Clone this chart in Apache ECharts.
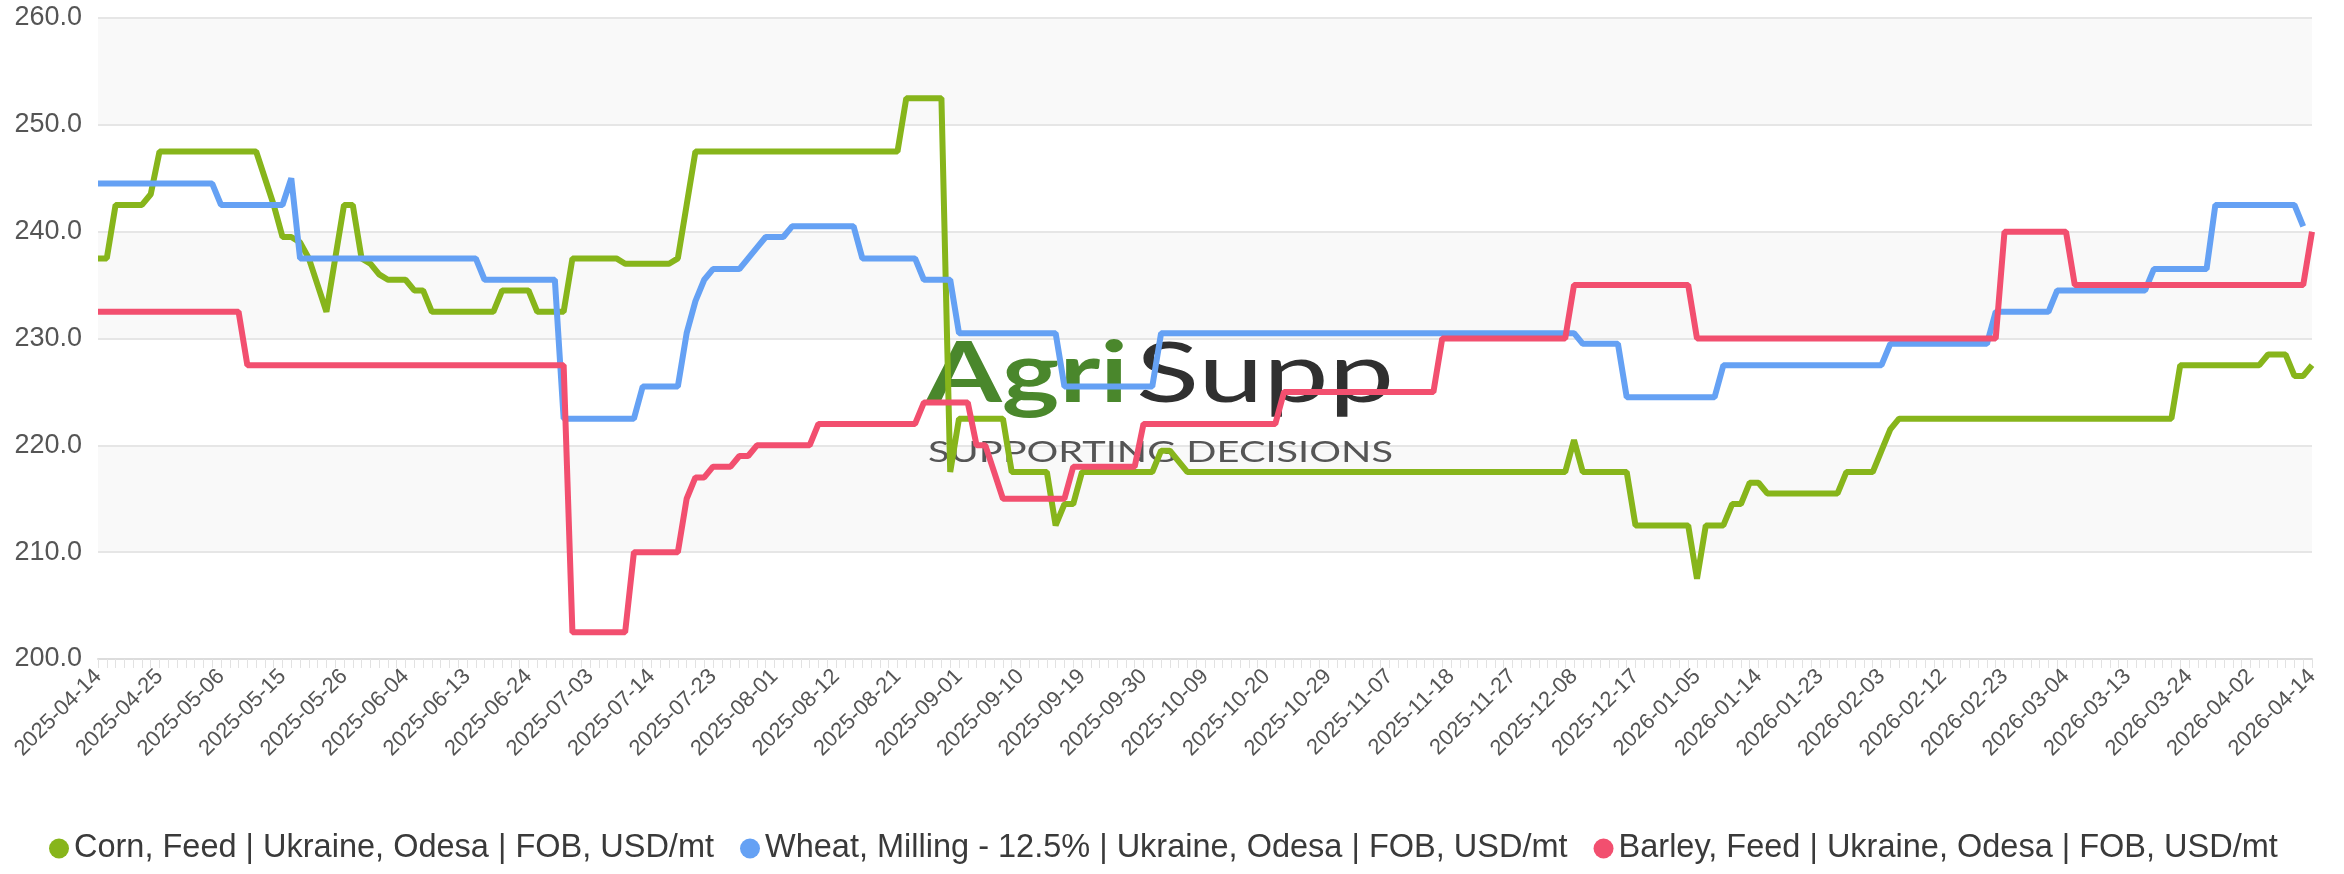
<!DOCTYPE html>
<html>
<head>
<meta charset="utf-8">
<script src="https://cdn.jsdelivr.net/npm/echarts@6/dist/echarts.min.js"></script>
<style>
  html, body { margin: 0; padding: 0; background: #fff; }
  #chart { width: 2344px; height: 874px; }
</style>
</head>
<body>
<div id="chart"></div>
<script>
// trading days, one row per labelled step (every 7th date gets a label)
const dates = [
  '2025-04-14', '2025-04-15', '2025-04-16', '2025-04-17', '2025-04-22', '2025-04-23', '2025-04-24',
  '2025-04-25', '2025-04-28', '2025-04-29', '2025-04-30', '2025-05-01', '2025-05-02', '2025-05-05',
  '2025-05-06', '2025-05-07', '2025-05-08', '2025-05-09', '2025-05-12', '2025-05-13', '2025-05-14',
  '2025-05-15', '2025-05-16', '2025-05-19', '2025-05-20', '2025-05-21', '2025-05-22', '2025-05-23',
  '2025-05-26', '2025-05-27', '2025-05-28', '2025-05-29', '2025-05-30', '2025-06-02', '2025-06-03',
  '2025-06-04', '2025-06-05', '2025-06-06', '2025-06-09', '2025-06-10', '2025-06-11', '2025-06-12',
  '2025-06-13', '2025-06-16', '2025-06-17', '2025-06-18', '2025-06-19', '2025-06-20', '2025-06-23',
  '2025-06-24', '2025-06-25', '2025-06-26', '2025-06-27', '2025-06-30', '2025-07-01', '2025-07-02',
  '2025-07-03', '2025-07-04', '2025-07-07', '2025-07-08', '2025-07-09', '2025-07-10', '2025-07-11',
  '2025-07-14', '2025-07-15', '2025-07-16', '2025-07-17', '2025-07-18', '2025-07-21', '2025-07-22',
  '2025-07-23', '2025-07-24', '2025-07-25', '2025-07-28', '2025-07-29', '2025-07-30', '2025-07-31',
  '2025-08-01', '2025-08-04', '2025-08-05', '2025-08-06', '2025-08-07', '2025-08-08', '2025-08-11',
  '2025-08-12', '2025-08-13', '2025-08-14', '2025-08-15', '2025-08-18', '2025-08-19', '2025-08-20',
  '2025-08-21', '2025-08-22', '2025-08-25', '2025-08-26', '2025-08-27', '2025-08-28', '2025-08-29',
  '2025-09-01', '2025-09-02', '2025-09-03', '2025-09-04', '2025-09-05', '2025-09-08', '2025-09-09',
  '2025-09-10', '2025-09-11', '2025-09-12', '2025-09-15', '2025-09-16', '2025-09-17', '2025-09-18',
  '2025-09-19', '2025-09-22', '2025-09-23', '2025-09-24', '2025-09-25', '2025-09-26', '2025-09-29',
  '2025-09-30', '2025-10-01', '2025-10-02', '2025-10-03', '2025-10-06', '2025-10-07', '2025-10-08',
  '2025-10-09', '2025-10-10', '2025-10-13', '2025-10-14', '2025-10-15', '2025-10-16', '2025-10-17',
  '2025-10-20', '2025-10-21', '2025-10-22', '2025-10-23', '2025-10-24', '2025-10-27', '2025-10-28',
  '2025-10-29', '2025-10-30', '2025-10-31', '2025-11-03', '2025-11-04', '2025-11-05', '2025-11-06',
  '2025-11-07', '2025-11-10', '2025-11-11', '2025-11-12', '2025-11-13', '2025-11-14', '2025-11-17',
  '2025-11-18', '2025-11-19', '2025-11-20', '2025-11-21', '2025-11-24', '2025-11-25', '2025-11-26',
  '2025-11-27', '2025-11-28', '2025-12-01', '2025-12-02', '2025-12-03', '2025-12-04', '2025-12-05',
  '2025-12-08', '2025-12-09', '2025-12-10', '2025-12-11', '2025-12-12', '2025-12-15', '2025-12-16',
  '2025-12-17', '2025-12-18', '2025-12-19', '2025-12-22', '2025-12-23', '2025-12-29', '2025-12-30',
  '2026-01-05', '2026-01-06', '2026-01-07', '2026-01-08', '2026-01-09', '2026-01-12', '2026-01-13',
  '2026-01-14', '2026-01-15', '2026-01-16', '2026-01-19', '2026-01-20', '2026-01-21', '2026-01-22',
  '2026-01-23', '2026-01-26', '2026-01-27', '2026-01-28', '2026-01-29', '2026-01-30', '2026-02-02',
  '2026-02-03', '2026-02-04', '2026-02-05', '2026-02-06', '2026-02-09', '2026-02-10', '2026-02-11',
  '2026-02-12', '2026-02-13', '2026-02-16', '2026-02-17', '2026-02-18', '2026-02-19', '2026-02-20',
  '2026-02-23', '2026-02-24', '2026-02-25', '2026-02-26', '2026-02-27', '2026-03-02', '2026-03-03',
  '2026-03-04', '2026-03-05', '2026-03-06', '2026-03-09', '2026-03-10', '2026-03-11', '2026-03-12',
  '2026-03-13', '2026-03-16', '2026-03-17', '2026-03-18', '2026-03-19', '2026-03-20', '2026-03-23',
  '2026-03-24', '2026-03-25', '2026-03-26', '2026-03-27', '2026-03-30', '2026-03-31', '2026-04-01',
  '2026-04-02', '2026-04-06', '2026-04-07', '2026-04-08', '2026-04-09', '2026-04-10', '2026-04-13',
  '2026-04-14'
]

const corn = [
  237.5, 237.5, 242.5, 242.5, 242.5, 242.5, 243.5,
  247.5, 247.5, 247.5, 247.5, 247.5, 247.5, 247.5,
  247.5, 247.5, 247.5, 247.5, 247.5, 245, 242.5,
  239.5, 239.5, 239, 237.5, 235, 232.5, 237.5,
  242.5, 242.5, 237.5, 237, 236, 235.5, 235.5,
  235.5, 234.5, 234.5, 232.5, 232.5, 232.5, 232.5,
  232.5, 232.5, 232.5, 232.5, 234.5, 234.5, 234.5,
  234.5, 232.5, 232.5, 232.5, 232.5, 237.5, 237.5,
  237.5, 237.5, 237.5, 237.5, 237, 237, 237,
  237, 237, 237, 237.5, 242.5, 247.5, 247.5,
  247.5, 247.5, 247.5, 247.5, 247.5, 247.5, 247.5,
  247.5, 247.5, 247.5, 247.5, 247.5, 247.5, 247.5,
  247.5, 247.5, 247.5, 247.5, 247.5, 247.5, 247.5,
  247.5, 252.5, 252.5, 252.5, 252.5, 252.5, 217.5,
  222.5, 222.5, 222.5, 222.5, 222.5, 222.5, 217.5,
  217.5, 217.5, 217.5, 217.5, 212.5, 214.5, 214.5,
  217.5, 217.5, 217.5, 217.5, 217.5, 217.5, 217.5,
  217.5, 217.5, 219.5, 219.5, 218.5, 217.5, 217.5,
  217.5, 217.5, 217.5, 217.5, 217.5, 217.5, 217.5,
  217.5, 217.5, 217.5, 217.5, 217.5, 217.5, 217.5,
  217.5, 217.5, 217.5, 217.5, 217.5, 217.5, 217.5,
  217.5, 217.5, 217.5, 217.5, 217.5, 217.5, 217.5,
  217.5, 217.5, 217.5, 217.5, 217.5, 217.5, 217.5,
  217.5, 217.5, 217.5, 217.5, 217.5, 217.5, 217.5,
  220.5, 217.5, 217.5, 217.5, 217.5, 217.5, 217.5,
  212.5, 212.5, 212.5, 212.5, 212.5, 212.5, 212.5,
  207.5, 212.5, 212.5, 212.5, 214.5, 214.5, 216.5,
  216.5, 215.5, 215.5, 215.5, 215.5, 215.5, 215.5,
  215.5, 215.5, 215.5, 217.5, 217.5, 217.5, 217.5,
  219.5, 221.5, 222.5, 222.5, 222.5, 222.5, 222.5,
  222.5, 222.5, 222.5, 222.5, 222.5, 222.5, 222.5,
  222.5, 222.5, 222.5, 222.5, 222.5, 222.5, 222.5,
  222.5, 222.5, 222.5, 222.5, 222.5, 222.5, 222.5,
  222.5, 222.5, 222.5, 222.5, 222.5, 222.5, 227.5,
  227.5, 227.5, 227.5, 227.5, 227.5, 227.5, 227.5,
  227.5, 227.5, 228.5, 228.5, 228.5, 226.5, 226.5,
  227.5
]

const wheat = [
  244.5, 244.5, 244.5, 244.5, 244.5, 244.5, 244.5,
  244.5, 244.5, 244.5, 244.5, 244.5, 244.5, 244.5,
  242.5, 242.5, 242.5, 242.5, 242.5, 242.5, 242.5,
  242.5, 245, 237.5, 237.5, 237.5, 237.5, 237.5,
  237.5, 237.5, 237.5, 237.5, 237.5, 237.5, 237.5,
  237.5, 237.5, 237.5, 237.5, 237.5, 237.5, 237.5,
  237.5, 237.5, 235.5, 235.5, 235.5, 235.5, 235.5,
  235.5, 235.5, 235.5, 235.5, 222.5, 222.5, 222.5,
  222.5, 222.5, 222.5, 222.5, 222.5, 222.5, 225.5,
  225.5, 225.5, 225.5, 225.5, 230.5, 233.5, 235.5,
  236.5, 236.5, 236.5, 236.5, 237.5, 238.5, 239.5,
  239.5, 239.5, 240.5, 240.5, 240.5, 240.5, 240.5,
  240.5, 240.5, 240.5, 237.5, 237.5, 237.5, 237.5,
  237.5, 237.5, 237.5, 235.5, 235.5, 235.5, 235.5,
  230.5, 230.5, 230.5, 230.5, 230.5, 230.5, 230.5,
  230.5, 230.5, 230.5, 230.5, 230.5, 225.5, 225.5,
  225.5, 225.5, 225.5, 225.5, 225.5, 225.5, 225.5,
  225.5, 225.5, 230.5, 230.5, 230.5, 230.5, 230.5,
  230.5, 230.5, 230.5, 230.5, 230.5, 230.5, 230.5,
  230.5, 230.5, 230.5, 230.5, 230.5, 230.5, 230.5,
  230.5, 230.5, 230.5, 230.5, 230.5, 230.5, 230.5,
  230.5, 230.5, 230.5, 230.5, 230.5, 230.5, 230.5,
  230.5, 230.5, 230.5, 230.5, 230.5, 230.5, 230.5,
  230.5, 230.5, 230.5, 230.5, 230.5, 230.5, 230.5,
  230.5, 229.5, 229.5, 229.5, 229.5, 229.5, 224.5,
  224.5, 224.5, 224.5, 224.5, 224.5, 224.5, 224.5,
  224.5, 224.5, 224.5, 227.5, 227.5, 227.5, 227.5,
  227.5, 227.5, 227.5, 227.5, 227.5, 227.5, 227.5,
  227.5, 227.5, 227.5, 227.5, 227.5, 227.5, 227.5,
  227.5, 229.5, 229.5, 229.5, 229.5, 229.5, 229.5,
  229.5, 229.5, 229.5, 229.5, 229.5, 229.5, 232.5,
  232.5, 232.5, 232.5, 232.5, 232.5, 232.5, 234.5,
  234.5, 234.5, 234.5, 234.5, 234.5, 234.5, 234.5,
  234.5, 234.5, 234.5, 236.5, 236.5, 236.5, 236.5,
  236.5, 236.5, 236.5, 242.5, 242.5, 242.5, 242.5,
  242.5, 242.5, 242.5, 242.5, 242.5, 242.5, 240.5,
  null
]

const barley = [
  232.5, 232.5, 232.5, 232.5, 232.5, 232.5, 232.5,
  232.5, 232.5, 232.5, 232.5, 232.5, 232.5, 232.5,
  232.5, 232.5, 232.5, 227.5, 227.5, 227.5, 227.5,
  227.5, 227.5, 227.5, 227.5, 227.5, 227.5, 227.5,
  227.5, 227.5, 227.5, 227.5, 227.5, 227.5, 227.5,
  227.5, 227.5, 227.5, 227.5, 227.5, 227.5, 227.5,
  227.5, 227.5, 227.5, 227.5, 227.5, 227.5, 227.5,
  227.5, 227.5, 227.5, 227.5, 227.5, 202.5, 202.5,
  202.5, 202.5, 202.5, 202.5, 202.5, 210, 210,
  210, 210, 210, 210, 215, 217, 217,
  218, 218, 218, 219, 219, 220, 220,
  220, 220, 220, 220, 220, 222, 222,
  222, 222, 222, 222, 222, 222, 222,
  222, 222, 222, 224, 224, 224, 224,
  224, 224, 220, 220, 217.5, 215, 215,
  215, 215, 215, 215, 215, 215, 218,
  218, 218, 218, 218, 218, 218, 218,
  222, 222, 222, 222, 222, 222, 222,
  222, 222, 222, 222, 222, 222, 222,
  222, 222, 225, 225, 225, 225, 225,
  225, 225, 225, 225, 225, 225, 225,
  225, 225, 225, 225, 225, 225, 230,
  230, 230, 230, 230, 230, 230, 230,
  230, 230, 230, 230, 230, 230, 230,
  235, 235, 235, 235, 235, 235, 235,
  235, 235, 235, 235, 235, 235, 235,
  230, 230, 230, 230, 230, 230, 230,
  230, 230, 230, 230, 230, 230, 230,
  230, 230, 230, 230, 230, 230, 230,
  230, 230, 230, 230, 230, 230, 230,
  230, 230, 230, 230, 230, 230, 230,
  240, 240, 240, 240, 240, 240, 240,
  240, 235, 235, 235, 235, 235, 235,
  235, 235, 235, 235, 235, 235, 235,
  235, 235, 235, 235, 235, 235, 235,
  235, 235, 235, 235, 235, 235, 235,
  240
]

const seriesNames = [
  'Corn, Feed | Ukraine, Odesa | FOB, USD/mt',
  'Wheat, Milling - 12.5% | Ukraine, Odesa | FOB, USD/mt',
  'Barley, Feed | Ukraine, Odesa | FOB, USD/mt',
]
const seriesColors = ['#87b51b', '#65a1f4', '#f24f6f']

const fontFamily = '"Liberation Sans", Arial, Helvetica, sans-serif'
const logoFont = 'Lato, "Open Sans", sans-serif'

const chart = echarts.init(document.getElementById('chart'))

const makeLine = (name, data, color) => ({
  name,
  type: 'line',
  data,
  color,
  showSymbol: false,
  symbol: 'circle',
  lineStyle: { width: 6, color },
  emphasis: { disabled: true },
  z: 3,
})

chart.setOption({
  animation: false,
  backgroundColor: '#ffffff',
  grid: { left: 98, right: 32, top: 18, bottom: 215 },
  legend: {
    left: 44,
    bottom: 4,
    icon: 'circle',
    itemWidth: 20,
    itemHeight: 20,
    itemGap: 26,
    textStyle: { fontFamily, fontSize: 32.5, color: '#3a3a3a' },
    data: seriesNames,
  },
  // watermark logo, sits over the grid but under the lines
  graphic: [
    {
      type: 'text',
      x: 926,
      y: 333,
      scaleX: 1.3,
      z: 2,
      silent: true,
      style: {
        text: 'Agri',
        font: 'bold 84px ' + logoFont,
        fill: '#4a872c',
        textVerticalAlign: 'top',
      },
    },
    {
      type: 'text',
      x: 1136,
      y: 333,
      scaleX: 1.39,
      z: 2,
      silent: true,
      style: {
        text: 'Supp',
        font: '84px ' + logoFont,
        fill: '#303030',
        textVerticalAlign: 'top',
      },
    },
    {
      type: 'text',
      x: 928,
      y: 438,
      scaleX: 1.37,
      z: 2,
      silent: true,
      style: {
        text: 'SUPPORTING DECISIONS',
        font: '29px ' + logoFont,
        fill: '#555555',
        textVerticalAlign: 'top',
      },
    },
  ],
  xAxis: {
    type: 'category',
    boundaryGap: false,
    data: dates,
    axisLine: { show: true, lineStyle: { color: '#dcdcdc', width: 2 } },
    axisTick: { show: true, interval: 0, length: 9, lineStyle: { color: '#e2e2e2', width: 1 } },
    axisLabel: {
      interval: 6,
      rotate: 45,
      fontFamily,
      fontSize: 22,
      color: '#555555',
      margin: 14,
    },
    splitLine: { show: false },
  },
  yAxis: {
    type: 'value',
    min: 200,
    max: 260,
    interval: 10,
    axisLine: { show: false },
    axisTick: { show: false },
    axisLabel: {
      fontFamily,
      fontSize: 27,
      color: '#555555',
      margin: 16,
      formatter: (v) => v.toFixed(1),
    },
    splitLine: { show: true, lineStyle: { color: '#e6e6e6', width: 2 } },
    splitArea: { show: true, areaStyle: { color: ['#ffffff', '#f9f9f9'] } },
  },
  series: [
    makeLine(seriesNames[0], corn, seriesColors[0]),
    makeLine(seriesNames[1], wheat, seriesColors[1]),
    makeLine(seriesNames[2], barley, seriesColors[2]),
  ],
})
</script>
</body>
</html>
